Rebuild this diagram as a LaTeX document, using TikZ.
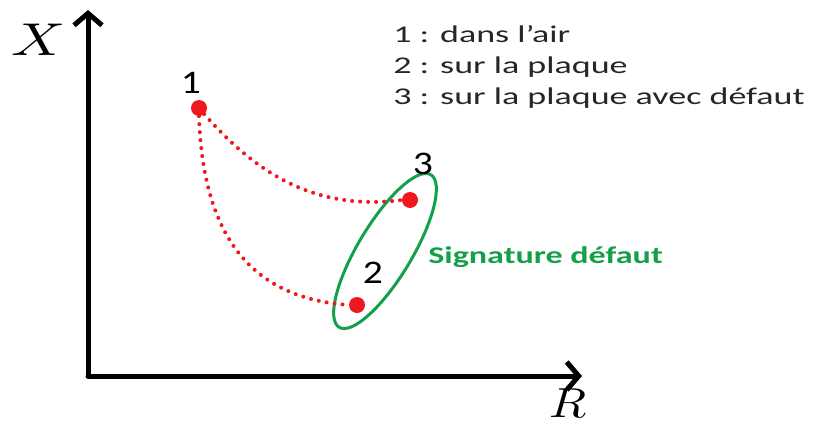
\documentclass[tikz,border=0pt]{standalone}
\usepackage{fontspec}
\usepackage{unicode-math}
\setmainfont{Carlito}
\setmathfont{Latin Modern Math}
\usetikzlibrary{arrows.meta,shapes.geometric}
\definecolor{ptred}{RGB}{238,24,30}
\definecolor{siggreen}{RGB}{20,160,75}
\tikzset{
  axis/.style={line width=5pt, line cap=round, line join=round,
    -{Straight Barb[length=12pt,width=28pt,line width=5pt]}},
  pt/.style={circle, fill=ptred, inner sep=0pt, minimum size=16pt},
  ptlabel/.style={font=\fontsize{33}{36}\selectfont, inner sep=0pt, xscale=1.2, transform shape},
  traj/.style={ptred, line width=4pt, line cap=round, dash pattern=on 0pt off 8pt},
  axlabel/.style={font=\fontsize{46}{50}\selectfont, inner sep=0pt, transform shape},
}
\begin{document}
\begin{tikzpicture}[x=1pt,y=-1pt]
\useasboundingbox (0,0) rectangle (821,428);
\coordinate (O) at (88,376);
\coordinate (xe) at (582,376);
\coordinate (ye) at (88,10);
\draw[axis] (O) -- (ye);
\draw[axis] (O) -- (xe);
\node[axlabel, xscale=1.3] (xl) at (38,40) {$X$};
\node[axlabel, xscale=1.15, font=\fontsize{42}{46}\selectfont] (rl) at (568,404) {$R$};

\node[ellipse, draw=siggreen, line width=3pt, minimum width=178pt, minimum height=54pt, inner sep=0pt, rotate=59] (sig) at (385,251) {};

\node[pt] (p1) at (199,108) {};
\node[pt] (p2) at (357,305) {};
\node[pt] (p3) at (410,200) {};
\draw[traj] (p1.center) .. controls (250,168) and (310,212) .. (p3.west);
\draw[traj] (p1.south) .. controls (203,235) and (250,298) .. (p2.west);

\node[ptlabel] (l1) at (191,83) {1};
\node[ptlabel] (l2) at (373,273) {2};
\node[ptlabel] (l3) at (423,164) {3};

\node[anchor=west, siggreen, font=\fontsize{24}{28}\bfseries\selectfont, inner sep=0pt, xscale=1.42, transform shape] (sigl) at (428,257) {Signature défaut};

\node[anchor=north west, align=left, inner sep=0pt, font=\fontsize{24}{31}\selectfont, text=black!85, xscale=1.5, transform shape] (leg) at (393,25)
  {1 : dans l’air\\2 : sur la plaque\\3 : sur la plaque avec défaut};
\end{tikzpicture}
\end{document}
